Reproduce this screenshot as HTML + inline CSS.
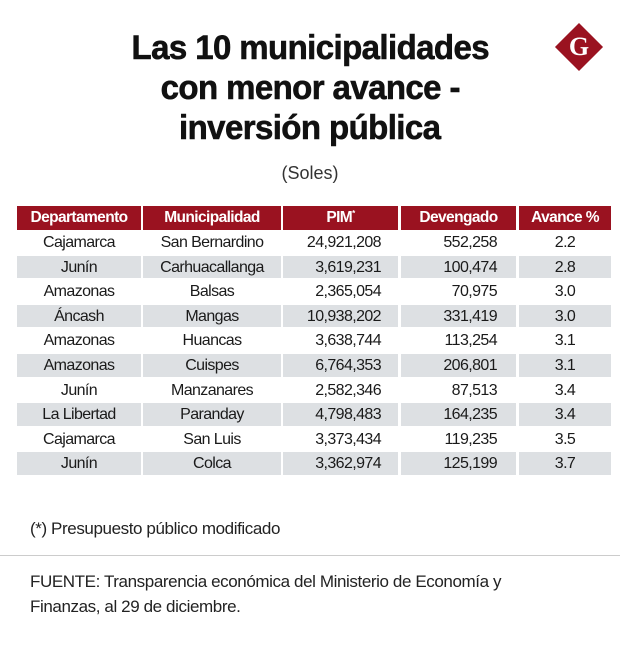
<!DOCTYPE html>
<html><head><meta charset="utf-8"><style>
body{margin:0;width:620px;height:649px;background:#fff;position:relative;overflow:hidden;font-family:"Liberation Sans",sans-serif;color:#1a1a1a}
.t{position:absolute;left:0;width:620px;text-align:center;font-weight:bold;font-size:34px;letter-spacing:-0.6px;color:#111;-webkit-text-stroke:0.6px #111}
.t span{display:inline-block;transform:scaleX(0.97)}
.c{position:absolute;height:24px;line-height:24px;font-size:16px;letter-spacing:-0.6px;white-space:nowrap;box-sizing:border-box}
.h{background:#9a1220;color:#fff;font-weight:bold;text-align:center;font-size:15.5px}
</style></head><body>
<div class="t" style="top:29px"><span>Las 10 municipalidades</span></div>
<div class="t" style="top:69px"><span>con menor avance -</span></div>
<div class="t" style="top:109px"><span>inversión pública</span></div>
<div style="position:absolute;top:163px;left:0;width:620px;text-align:center;font-size:18px;color:#333">(Soles)</div>
<div style="position:absolute;left:562px;top:30px;width:34px;height:34px;background:#9a1220;transform:rotate(45deg)"></div>
<div style="position:absolute;left:562px;top:30px;width:34px;height:34px;line-height:34px;text-align:center;color:#fff;font-family:'Liberation Serif',serif;font-weight:bold;font-size:26px">G</div>
<div id="tbl"></div>
<div style="position:absolute;left:30px;top:519px;font-size:17px;letter-spacing:-0.4px;color:#222">(*) Presupuesto público modificado</div>
<div style="position:absolute;left:0;top:555px;width:620px;height:1px;background:#ccc"></div>
<div style="position:absolute;left:30px;top:569px;font-size:17px;letter-spacing:-0.4px;line-height:25px;color:#222">FUENTE: Transparencia económica del Ministerio de Economía y<br>Finanzas, al 29 de diciembre.</div>
<script>
const headers=["Departamento","Municipalidad","PIM*","Devengado","Avance %"];
const departamentos=["Cajamarca","Junín","Amazonas","Áncash","Amazonas","Amazonas","Junín","La Libertad","Cajamarca","Junín"];
const municipalidades=["San Bernardino","Carhuacallanga","Balsas","Mangas","Huancas","Cuispes","Manzanares","Paranday","San Luis","Colca"];
const pim=["24,921,208","3,619,231","2,365,054","10,938,202","3,638,744","6,764,353","2,582,346","4,798,483","3,373,434","3,362,974"];
const devengado=["552,258","100,474","70,975","331,419","113,254","206,801","87,513","164,235","119,235","125,199"];
const avance=["2.2","2.8","3.0","3.0","3.1","3.1","3.4","3.4","3.5","3.7"];
const colX=[17,143,283,401,519],colW=[124,138,115,115,92];
const align=["center","center","right","right","center"],pad=[0,0,17,19,0];
const tbl=document.getElementById('tbl');
headers.forEach((h,i)=>{const d=document.createElement('div');d.className='c h';


d.style.left=colX[i]+'px';d.style.top='206px';d.style.width=colW[i]+'px';d.style.height='24px';
d.innerHTML=h==='PIM*'?'PIM<span style="font-size:8px;position:relative;top:-6px">*</span>':h;tbl.appendChild(d);});
departamentos.forEach((dep,r)=>{const vals=[dep,municipalidades[r],pim[r],devengado[r],avance[r]];
vals.forEach((v,i)=>{const d=document.createElement('div');d.className='c';


d.style.left=colX[i]+'px';d.style.top=(231+r*24.6)+'px';d.style.width=colW[i]+'px';d.style.height='22.6px';d.style.lineHeight='23px';
d.style.textAlign=align[i];d.style.paddingRight=pad[i]+'px';
if(r%2==1)d.style.background='#dde0e3';d.textContent=v;tbl.appendChild(d);});});
</script>
</body></html>
